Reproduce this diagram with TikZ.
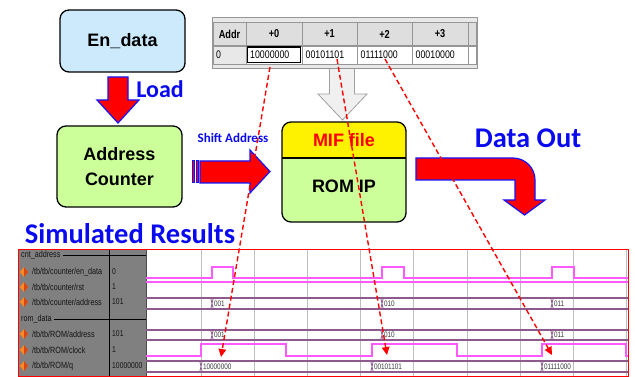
\documentclass[tikz,border=0pt]{standalone}
\usepackage{fontspec}
\setmainfont{Liberation Sans}
\newfontfamily\calfont{Carlito}
\newfontfamily\narrowfont[FakeStretch=0.8]{Liberation Sans}
\usetikzlibrary{arrows.meta,calc}

\definecolor{boxblue}{RGB}{204,234,252}
\definecolor{boxgreen}{RGB}{204,255,153}
\definecolor{arrowred}{RGB}{255,0,0}
\definecolor{arrowblue}{RGB}{20,20,255}
\definecolor{labelblue}{RGB}{10,10,240}
\definecolor{wavepink}{RGB}{255,90,255}
\definecolor{buspurple}{RGB}{140,90,140}
\definecolor{panelgray}{RGB}{128,128,128}
\definecolor{gridgray}{RGB}{190,190,190}
\definecolor{headgray}{RGB}{222,222,222}
\definecolor{framegray}{RGB}{232,232,232}
\definecolor{cellline}{RGB}{150,150,150}
\definecolor{romarrow}{RGB}{240,240,240}
\definecolor{romarrowline}{RGB}{160,160,160}
\definecolor{iconlight}{RGB}{255,140,30}
\definecolor{icondark}{RGB}{215,70,20}
\definecolor{sigtext}{RGB}{20,20,20}
\definecolor{bustext}{RGB}{60,60,60}

\tikzset{
  block/.style={draw=black, line width=1.3pt, rounded corners=9pt, align=center,
    inner sep=0pt, font=\bfseries\fontsize{18}{25}\selectfont},
  bluelabel/.style={text=labelblue, inner sep=0pt, font=\calfont\bfseries},
  blockarrow/.style={fill=arrowred, draw=arrowblue, line width=1.2pt, line join=miter},
  cellbox/.style={draw=cellline, line width=0.6pt},
  htext/.style={inner sep=0pt, font=\narrowfont\bfseries\fontsize{11.5}{12}\selectfont},
  dtext/.style={inner sep=0pt, anchor=west, font=\narrowfont\fontsize{11}{12}\selectfont},
  signame/.style={anchor=west, inner sep=0pt, text=sigtext, font=\narrowfont\fontsize{9}{10}\selectfont},
  sigval/.style={anchor=west, inner sep=0pt, text=sigtext, font=\narrowfont\fontsize{8.5}{10}\selectfont},
  wave/.style={draw=wavepink, line width=1.1pt},
  bus/.style={draw=buspurple, line width=1.1pt},
  buslabel/.style={anchor=west, inner sep=0pt, text=bustext, font=\narrowfont\fontsize{8}{9}\selectfont},
  gridline/.style={draw=gridgray, line width=0.9pt},
  dasharrow/.style={draw=arrowred, line width=1.4pt, dash pattern=on 5pt off 3pt,
    -{Triangle[length=8pt,width=7.5pt]}},
  sigicon/.pic={
    \fill[iconlight] (0,-5) -- (4,0) -- (0,5) -- (-4,0) -- cycle;
    \fill[icondark] (0,-5) -- (4,0) -- (0,5) -- cycle;
  }
}

% two-line bus: top y, bottom y, list of x/label/name
\newcommand\drawbus[3]{%
  \draw[bus] (146,#1) -- (628,#1) (146,#2) -- (628,#2);
  \foreach \bx/\bl/\bn in {#3}{
    \fill[white] (\bx-1.3,#1+0.7) rectangle (\bx+1.3,#2-0.7);
    \draw[bus, line width=0.8pt] (\bx-1.3,#1) -- (\bx+1.3,#2) (\bx-1.3,#2) -- (\bx+1.3,#1);
    \node[buslabel] (\bn) at (\bx+1.8,{(#1+#2)/2}) {\bl};
  }
}

\begin{document}
\begin{tikzpicture}[x=1pt,y=-1pt]
\fill[white] (0,0) rectangle (635,377);
\useasboundingbox (0,0) rectangle (635,377);

% ---- gray arrow from the memory table into the ROM ----
\draw[fill=romarrow, draw=romarrowline, line width=0.8pt]
  (329.5,62) -- (354.5,62) -- (354.5,94) -- (367,94) -- (342.5,120)
  -- (318,94) -- (329.5,94) -- cycle;

% ---- memory initialisation table ----
\fill[framegray] (212,17) rectangle (477,68);
\draw[cellline, line width=0.7pt] (212,17) rectangle (477,68);
\foreach \xa/\xb in {213/246, 246/302, 302/357, 357/412, 412/468, 468/476}{
  \draw[cellbox, fill=headgray] (\xa,22) rectangle (\xb,45);
  \draw[cellbox, fill=white] (\xa,46) rectangle (\xb,64);
}
\draw[cellbox, fill=framegray] (213,46) rectangle (246,64);
\node[htext] (hAddr) at (229.5,34) {Addr};
\node[htext] (h0) at (274,34) {+0};
\node[htext] (h1) at (329.5,34) {+1};
\node[htext] (h2) at (384.5,34) {+2};
\node[htext] (h3) at (440,34) {+3};
\node[dtext] (dAddr) at (216,55) {0};
\draw[black, line width=1.4pt] (247.5,47.2) rectangle (300.5,62.8);
\node[dtext] (d0) at (250,55) {10000000};
\node[dtext] (d1) at (305.5,55) {00101101};
\node[dtext] (d2) at (360.5,55) {01111000};
\node[dtext] (d3) at (415.5,55) {00010000};

% ---- En_data and Load ----
\node[block, fill=boxblue, minimum width=125pt, minimum height=62pt] (en) at (122.5,41) {En\_data};
\draw[blockarrow] (108,77) -- (128,77) -- (128,100) -- (139,100) -- (118,123)
  -- (97,100) -- (108,100) -- cycle;
\node[bluelabel, font=\calfont\bfseries\fontsize{24}{26}\selectfont] (load) at (160,89) {Load};

% ---- Address Counter and Shift Address ----
\node[block, fill=boxgreen, minimum width=125pt, minimum height=81pt] (ac) at (119.5,166.5) {Address\\Counter};
\draw[blockarrow, line width=1pt] (192,161) rectangle (194.5,183);
\draw[blockarrow, line width=1pt] (196,161) rectangle (198.5,183);
\draw[blockarrow] (200,161) -- (250,161) -- (250,150) -- (270,171.5) -- (250,193)
  -- (250,183) -- (200,183) -- cycle;
\node[bluelabel, font=\calfont\bfseries\fontsize{13}{14}\selectfont] (shift) at (233,138) {Shift Address};

% ---- ROM IP with its MIF file ----
\begin{scope}
  \clip[rounded corners=9pt] (282,122) rectangle (406,222);
  \fill[boxgreen] (282,122) rectangle (406,222);
  \fill[yellow] (282,122) rectangle (406,158);
\end{scope}
\draw[line width=1.2pt] (282,158) -- (406,158);
\node[draw=black, line width=1.3pt, rounded corners=9pt, minimum width=124pt,
  minimum height=100pt, inner sep=0pt] (rom) at (344,172) {};
\node[inner sep=0pt, text=arrowred, font=\bfseries\fontsize{18}{20}\selectfont] (mif) at (344,140) {MIF file};
\node[inner sep=0pt, font=\bfseries\fontsize{18}{20}\selectfont] (romip) at (344,186) {ROM IP};

% ---- Data Out ----
\draw[blockarrow] (416,180) -- (416,158) -- (513,158)
  arc[start angle=-90, end angle=0, radius=22] -- (535,200) -- (545,200)
  -- (524.5,215) -- (504,200) -- (515,200) -- (515,180) -- cycle;
\node[bluelabel, font=\calfont\bfseries\fontsize{28.5}{30}\selectfont] (dout) at (528,138) {Data Out};

% ---- Simulated Results ----
\node[bluelabel, font=\calfont\bfseries\fontsize{28.5}{30}\selectfont] (simres) at (130,234) {Simulated Results};

% ---- wave window ----
\fill[panelgray] (18,249) rectangle (146,377);
\draw[black!70, line width=0.8pt] (146,249) -- (146,377);
\draw[black, line width=1pt] (109,249) -- (109,377);
\foreach \gx in {201,254,307,360,413,467,520,573,626}
  \draw[gridline] (\gx,249) -- (\gx,377);

\node[signame] (grpA) at (21,255) {cnt\_address};
\draw[black, line width=0.8pt] (grpA.east) ++(2,0) -- (146,255);
\node[signame] (grpB) at (21,319) {rom\_data};
\draw[black, line width=0.8pt] (grpB.east) ++(2,0) -- (146,319);

\foreach \sy in {272,287,302,334,350,366}
  \pic at (24,\sy) {sigicon};
\node[signame] (n1) at (32,272) {/tb/tb/counter/en\_data};
\node[signame] (n2) at (32,287) {/tb/tb/counter/rst};
\node[signame] (n3) at (32,302) {/tb/tb/counter/address};
\node[signame] (n4) at (32,334) {/tb/tb/ROM/address};
\node[signame] (n5) at (32,350) {/tb/tb/ROM/clock};
\node[signame] (n6) at (32,366) {/tb/tb/ROM/q};
\node[sigval] (v1) at (112,272) {0};
\node[sigval] (v2) at (112,287) {1};
\node[sigval] (v3) at (112,302) {101};
\node[sigval] (v4) at (112,334) {101};
\node[sigval] (v5) at (112,350) {1};
\node[sigval] (v6) at (112,366) {10000000};

% en_data pulses and rst held high
\draw[wave] (146,278) -- (212,278) -- (212,267) -- (233,267) -- (233,278)
  -- (382,278) -- (382,267) -- (404,267) -- (404,278)
  -- (552,278) -- (552,267) -- (574,267) -- (574,278) -- (628,278);
\draw[wave] (146,282) -- (628,282);
% clock
\draw[wave] (146,356) -- (201,356) -- (201,344) -- (286,344) -- (286,356)
  -- (372,356) -- (372,344) -- (457,344) -- (457,356)
  -- (542,356) -- (542,344) -- (626,344) -- (626,356) -- (628,356);
% buses
\drawbus{298}{309}{212/001/ca1, 382/010/ca2, 552/011/ca3}
\drawbus{330}{340}{212/001/ra1, 382/010/ra2, 552/011/ra3}
\drawbus{361}{372}{201/10000000/q1, 372/00101101/q2, 542/01111000/q3}

\draw[arrowred, line width=1pt] (18,249) rectangle (628,376.5);

% ---- data words traced from the table to the q output ----
\coordinate (s1) at (270,67);
\coordinate (s2) at (337,59);
\coordinate (s3) at (385,59);
\coordinate (t1) at (221,357);
\coordinate (t2) at (387,355);
\coordinate (t3) at (552,355);
\draw[dasharrow] (s1) -- (t1);
\draw[dasharrow] (s2) -- (t2);
\draw[dasharrow] (s3) -- (t3);
\end{tikzpicture}
\end{document}
